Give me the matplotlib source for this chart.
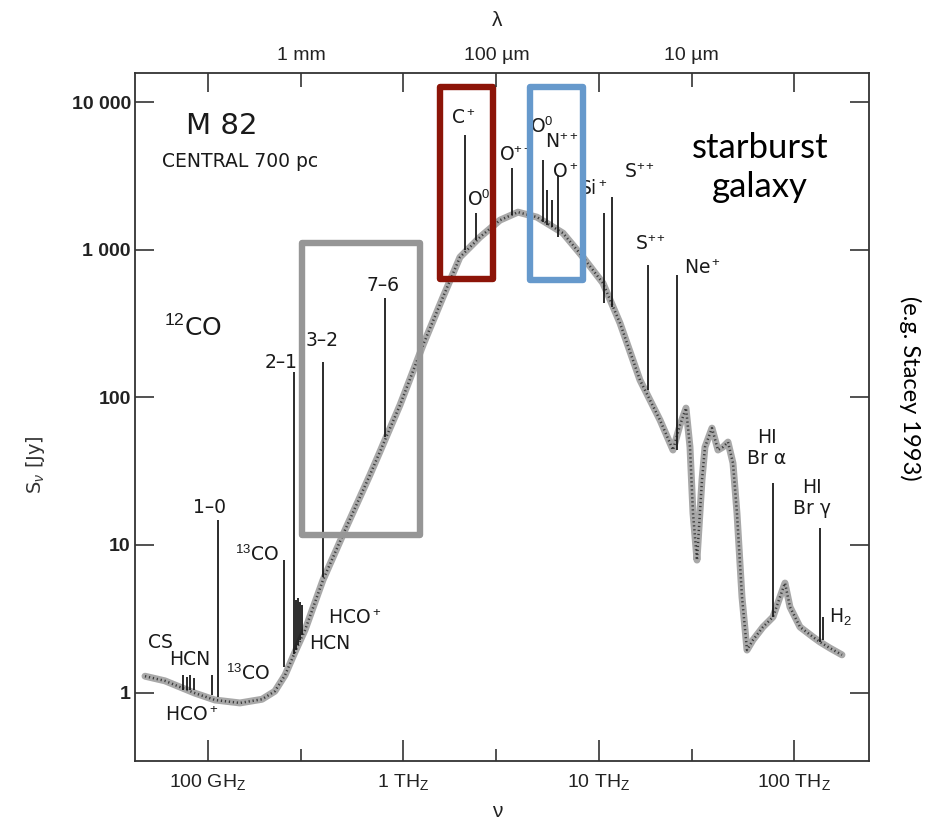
import matplotlib
matplotlib.use("Agg")
import matplotlib.pyplot as plt
from matplotlib.patches import Rectangle
from matplotlib.ticker import FixedLocator, NullFormatter

plt.rcParams["font.family"] = ["DejaVu Sans"]
plt.rcParams["mathtext.fontset"] = "custom"
plt.rcParams["mathtext.rm"] = "Liberation Sans"
plt.rcParams["mathtext.it"] = "Liberation Sans:italic"

# continuum of M 82 (frequency in GHz, flux density in Jy)
cont_freq = [47.6, 60.2, 85.8, 108.6, 145.8, 189, 220, 248, 279, 314, 388, 503, 675,
             962, 1262, 1597, 1951, 2470, 3127, 3867, 4837, 6574, 8321, 10530, 12870,
             16290, 20630, 24040, 26110, 28030, 29380, 30440, 31900, 33840, 35060,
             38070, 40870, 43350, 45980, 48770, 51130, 54240, 57540, 61740, 69470,
             78160, 84890, 90040, 95500, 107460, 125260, 136040, 153000, 176340]
cont_flux = [1.29, 1.20, 0.99, 0.89, 0.85, 0.90, 1.02, 1.31, 1.88, 2.65, 5.78, 12.6, 29.8,
             88.7, 226, 478, 892, 1219, 1589, 1800, 1665, 1298, 892, 595, 319,
             131, 70.2, 44.0, 64.9, 84.6, 46.1, 16.4, 7.9, 27.5, 46.1,
             61.9, 44.0, 46.1, 49.8, 35.9, 16.4, 4.44, 1.94, 2.27, 2.78,
             3.25, 4.44, 5.52, 3.80, 2.78, 2.38, 2.20, 2.00, 1.80]

# emission lines: frequency, peak, base on the continuum
line_freq = [74.5, 78.1, 80.9, 84.8, 104.8, 112.5, 245.0, 275.6, 282.2, 288.9, 296.0,
             302.9, 388, 805.9, 2070, 2357, 3602, 5192, 5442, 5773, 6196, 10656,
             11713, 17902, 25197, 78160, 136040, 140930]
line_top = [1.31, 1.27, 1.31, 1.25, 1.31, 14.75, 7.90, 148.4, 4.23, 4.37, 4.10,
            3.92, 173.4, 470.8, 5985, 1773, 3577, 4053, 2538, 2171, 3207, 1773,
            2275, 787.7, 674, 26.3, 13.0, 3.25]
line_base = [1.04, 1.04, 1.04, 1.04, 0.96, 0.93, 1.49, 1.82, 1.94, 2.10, 2.27,
             2.45, 6.06, 53.8, 995, 1163, 1719, 1540, 1470, 1425, 1219, 435.5,
             409.1, 112.0, 44.0, 3.25, 2.20, 2.27]

# line labels (text, frequency, flux of the label centre)
label_text = ["C$^+$", "O$^0$", "O$^{++}$", "O$^0$", "N$^{++}$", "O$^+$", "Si$^+$",
              "S$^{++}$", "S$^{++}$", "Ne$^+$", "HI\nBr \u03b1", "HI\nBr \u03b3", "H$_2$",
              "7\u20136", "3\u20132", "2\u20131", "1\u20130", "$^{13}$CO", "$^{13}$CO",
              "CS", "HCN", "HCO$^+$", "HCO$^+$", "HCN"]
label_x = [2022, 2441, 3776, 5131, 6497, 6730, 9361, 16290, 18550, 34250, 72840,
           123800, 172200, 787, 383.5, 236.5, 102.4, 178.2, 160.3, 57.4, 80.9,
           82.8, 565.9, 421.4]
label_y = [7805, 2171, 4381, 6781, 5366, 3360, 2618, 3360, 1093, 751.6, 45.35,
           20.78, 3.25, 576.7, 244.5, 173.4, 18.06, 8.54, 1.335, 2.198, 1.687,
           0.704, 3.197, 2.165]

# highlight boxes: (f_left, f_right, s_bottom, s_top, colour)
boxes = [(1541, 2879, 633.3, 12660, "#8c1408"),
         (4454, 8321, 623.4, 12660, "#6699cc"),
         (302.9, 1218, 11.67, 1110, "#969696")]

fig = plt.figure(figsize=(9.29, 8.22), dpi=100)
ax = fig.add_axes([0.1453, 0.0742, 0.7901, 0.8374])
ax.set_xscale("log")
ax.set_yscale("log")
ax.set_xlim(42.3, 242400)
ax.set_ylim(0.3435, 15870)

# stippled continuum
ax.plot(cont_freq, cont_flux, color="#a8a8a8", lw=5, solid_capstyle="round",
        solid_joinstyle="round", zorder=2)
ax.plot(cont_freq, cont_flux, color="#3c3c3c", lw=1.8, ls=(0, (0.5, 1.1)), zorder=3)

ax.vlines(line_freq, line_base, line_top, color="#1a1a1a", lw=1.3, zorder=4)

for t, lx, ly in zip(label_text, label_x, label_y):
    ax.text(lx, ly, t, ha="center", va="center", fontsize=13.5, color="#1a1a1a",
            linespacing=1.15, zorder=5)

ax.text(117.9, 6887, "M 82", ha="center", va="center", fontsize=21, color="#1a1a1a")
ax.text(145.8, 3990, "CENTRAL 700 pc", ha="center", va="center", fontsize=13.5,
        color="#1a1a1a")
ax.text(83.8, 294.8, "$^{12}$CO", ha="center", va="center", fontsize=18, color="#1a1a1a")

for f0, f1, s0, s1, c in boxes:
    ax.add_patch(Rectangle((f0, s0), f1 - f0, s1 - s0, fill=False, edgecolor=c,
                           lw=4.6, joinstyle="round", zorder=6))

for sp in ax.spines.values():
    sp.set_color("#333333")
    sp.set_linewidth(1.3)

# frequency axis (bottom)
ax.xaxis.set_major_locator(FixedLocator([1e2, 1e3, 1e4, 1e5]))
ax.xaxis.set_minor_locator(FixedLocator([300, 3000, 30000]))
ax.xaxis.set_minor_formatter(NullFormatter())
ax.set_xticklabels(["100 GH$_\\mathregular{Z}$", "1 TH$_\\mathregular{Z}$",
                    "10 TH$_\\mathregular{Z}$", "100 TH$_\\mathregular{Z}$"])
ax.tick_params(axis="x", which="major", direction="in", length=15, width=1.2,
               labelsize=14, pad=8, color="#333333")
ax.tick_params(axis="x", which="minor", direction="in", length=9, width=1.2,
               color="#333333")
for lab in ax.get_xticklabels():
    lab.set_family("Liberation Sans")
    lab.set_color("#222222")
ax.set_xlabel("\u03bd", fontsize=15, family="Liberation Sans", color="#222222")
ax.xaxis.set_label_coords(0.493, -0.06)

# flux axis
ax.yaxis.set_major_locator(FixedLocator([1, 10, 100, 1000, 10000]))
ax.yaxis.set_minor_locator(FixedLocator([]))
ax.set_yticklabels(["1", "10", "100", "1 000", "10 000"])
ax.tick_params(axis="y", which="major", direction="in", length=14, width=1.2,
               right=True, labelsize=14, pad=3, color="#333333")
for lab in ax.get_yticklabels():
    lab.set_family("Liberation Sans")
    lab.set_weight("bold")
    lab.set_color("#222222")
ax.set_ylabel("S$_\\nu$ [Jy]", fontsize=14, family="DejaVu Sans", color="#333333")
ax.yaxis.set_label_coords(-0.12, 0.43)

# wavelength axis (top)
top = ax.twiny()
top.set_xscale("log")
top.set_xlim(ax.get_xlim())
top.xaxis.set_major_locator(FixedLocator([300, 3000, 30000]))
top.xaxis.set_minor_locator(FixedLocator([1e2, 1e3, 1e4, 1e5]))
top.xaxis.set_minor_formatter(NullFormatter())
top.set_xticklabels(["1 mm", "100 \u00b5m", "10 \u00b5m"])
top.tick_params(axis="x", which="major", direction="in", length=10, width=1.2,
                labelsize=14, pad=6, color="#333333")
top.tick_params(axis="x", which="minor", direction="in", length=14, width=1.2,
                color="#333333")
for lab in top.get_xticklabels():
    lab.set_family("Liberation Sans")
    lab.set_color("#222222")
top.set_xlabel("\u03bb", fontsize=15, family="Liberation Sans", color="#222222")
top.xaxis.set_label_coords(0.493, 1.068)
for sp in top.spines.values():
    sp.set_visible(False)

fig.text(0.818, 0.796, "starburst\ngalaxy", ha="center", va="center", fontsize=25,
         family="Lato", linespacing=1.25, color="black")
fig.text(0.9795, 0.528, "(e.g. Stacey 1993)", ha="center", va="center", fontsize=17,
         family="Lato", rotation=270, color="black")

fig.savefig("out.png", dpi=100)
